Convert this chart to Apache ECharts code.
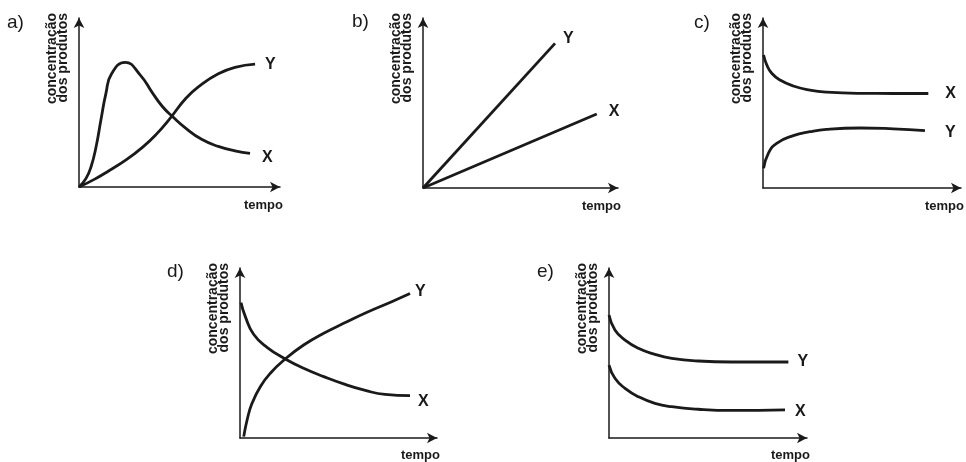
<!DOCTYPE html>
<html>
<head>
<meta charset="utf-8">
<script src="https://cdn.jsdelivr.net/npm/echarts@6/dist/echarts.min.js"></script>
<style>
  html, body { margin: 0; padding: 0; background: #fff; }
  #chart { width: 966px; height: 462px; }
</style>
</head>
<body>
<div id="chart"></div>
<script>
// valores (tempo, concentração) em unidades arbitrárias 0-10
const panelLabels = ['a)', 'b)', 'c)', 'd)', 'e)'];
const seriesNames = ['X', 'Y'];

const aX = [[0, 0], [0.35, 0.51], [0.6, 1.2], [0.85, 2.38], [1.09, 3.96], [1.34, 5.54], [1.62, 6.7],
  [2.3, 7.38], [3.05, 6.62], [3.67, 5.54], [4.16, 4.75], [4.66, 4.16],
  [5.32, 3.47], [6.1, 2.82], [6.93, 2.4], [7.76, 2.14], [8.51, 1.99]];
const aY = [[0, 0], [0.76, 0.45], [1.51, 0.98], [2.34, 1.6], [3.17, 2.36], [3.83, 3.1], [4.49, 4.0],
  [5.32, 5.25], [6.02, 6.0], [6.93, 6.7], [7.76, 7.08], [8.76, 7.27]];

const bX = [[0, 0], [8.91, 4.35]];
const bY = [[0, 0], [6.77, 8.51]];

const cX = [[0.03, 7.82], [0.19, 7.24], [0.44, 6.75], [0.86, 6.35], [1.53, 6.0], [2.37, 5.76], [3.22, 5.64],
  [4.9, 5.57], [6.58, 5.56], [8.35, 5.56]];
const cY = [[0.03, 1.16], [0.27, 2.04], [0.69, 2.63], [1.53, 3.08], [2.37, 3.31], [3.2, 3.45], [4.9, 3.53],
  [6.58, 3.48], [8.18, 3.38]];

const dX = [[0.05, 7.96], [0.27, 7.14], [0.69, 6.1], [1.37, 5.33], [2.3, 4.65], [3.23, 4.1], [4.25, 3.61],
  [5.26, 3.18], [6.36, 2.8], [7.36, 2.56], [8.63, 2.49]];
const dY = [[0.19, 0.08], [0.36, 1.06], [0.61, 2.04], [1.03, 3.02], [1.54, 3.81], [2.3, 4.65], [3.23, 5.47],
  [4.25, 6.16], [5.43, 6.84], [6.45, 7.4], [7.7, 8.02], [8.63, 8.5]];

const eX = [[0, 4.29], [0.3, 3.51], [0.81, 2.92], [1.48, 2.43], [2.32, 2.04], [3.17, 1.84], [4.51, 1.69],
  [6.2, 1.62], [8.89, 1.65]];
const eY = [[0, 7.24], [0.3, 6.35], [0.81, 5.76], [1.48, 5.28], [2.32, 4.92], [3.17, 4.69], [4.51, 4.53],
  [6.2, 4.47], [9.06, 4.47]];

const curves = [[aX, aY], [bX, bY], [cX, cY], [dX, dY], [eX, eY]];

// posição de cada painel e dos rótulos
const layout = [
  { grid: { left: 79, top: 18, width: 201, height: 169 }, title: [7, 13], lab: [[12, 4], [10, 0]] },
  { grid: { left: 423, top: 18, width: 195, height: 170 }, title: [352, 12], lab: [[12, -2], [8, -5]] },
  { grid: { left: 763, top: 18, width: 198, height: 170 }, title: [694, 13], lab: [[17, 0], [20, 2]] },
  { grid: { left: 240, top: 268, width: 197, height: 170 }, title: [167, 262], lab: [[8, 6], [5, -2]] },
  { grid: { left: 609, top: 268, width: 198, height: 170 }, title: [537, 262], lab: [[10, 2], [9, 0]] }
];

const FONT = 'Liberation Sans, Arial, sans-serif';
const INK = '#1a1a1a';

const chart = echarts.init(document.getElementById('chart'), null, { renderer: 'canvas' });

const axisLine = {
  show: true,
  symbol: ['none', 'arrow'],
  symbolSize: [8, 10],
  lineStyle: { color: INK, width: 1.5 }
};

const option = {
  animation: false,
  backgroundColor: '#fff',
  title: layout.map((p, i) => ({
    text: panelLabels[i],
    left: p.title[0],
    top: p.title[1],
    padding: 0,
    textStyle: { fontFamily: FONT, fontSize: 19, fontWeight: 'normal', color: INK }
  })),
  grid: layout.map(p => p.grid),
  xAxis: layout.map((p, i) => ({
    type: 'value',
    gridIndex: i,
    min: 0,
    max: 10,
    name: 'tempo',
    nameLocation: 'end',
    nameGap: 3,
    nameTextStyle: {
      fontFamily: FONT, fontSize: 13, fontWeight: 'bold', color: INK,
      align: 'right', verticalAlign: 'top', padding: [i < 3 ? 12 : 11, 0, 0, 0]
    },
    axisLine: axisLine,
    axisTick: { show: false },
    axisLabel: { show: false },
    splitLine: { show: false }
  })),
  yAxis: layout.map((p, i) => ({
    type: 'value',
    gridIndex: i,
    min: 0,
    max: 10,
    name: 'concentração\ndos produtos',
    nameLocation: 'end',
    nameRotate: 90,
    nameGap: 5,
    nameTextStyle: {
      fontFamily: FONT, fontSize: 14, fontWeight: 'bold', color: INK, lineHeight: 11.5,
      align: 'right', verticalAlign: 'bottom', padding: [0, 0, 10, 0]
    },
    axisLine: axisLine,
    axisTick: { show: false },
    axisLabel: { show: false },
    splitLine: { show: false }
  })),
  series: []
};

curves.forEach((pair, i) => {
  pair.forEach((data, k) => {
    option.series.push({
      type: 'line',
      name: seriesNames[k],
      xAxisIndex: i,
      yAxisIndex: i,
      data: data,
      smooth: data.length > 2 ? 0.5 : false,
      showSymbol: false,
      symbol: 'none',
      lineStyle: { color: INK, width: 2.8 },
      endLabel: {
        show: true,
        formatter: '{a}',
        distance: layout[i].lab[k][0],
        offset: [0, layout[i].lab[k][1]],
        fontFamily: FONT,
        fontSize: 16,
        fontWeight: 'bold',
        color: INK
      },
      emphasis: { disabled: true }
    });
  });
});

chart.setOption(option);
window.addEventListener('resize', () => {
  chart.resize();
});
</script>
</body>
</html>
